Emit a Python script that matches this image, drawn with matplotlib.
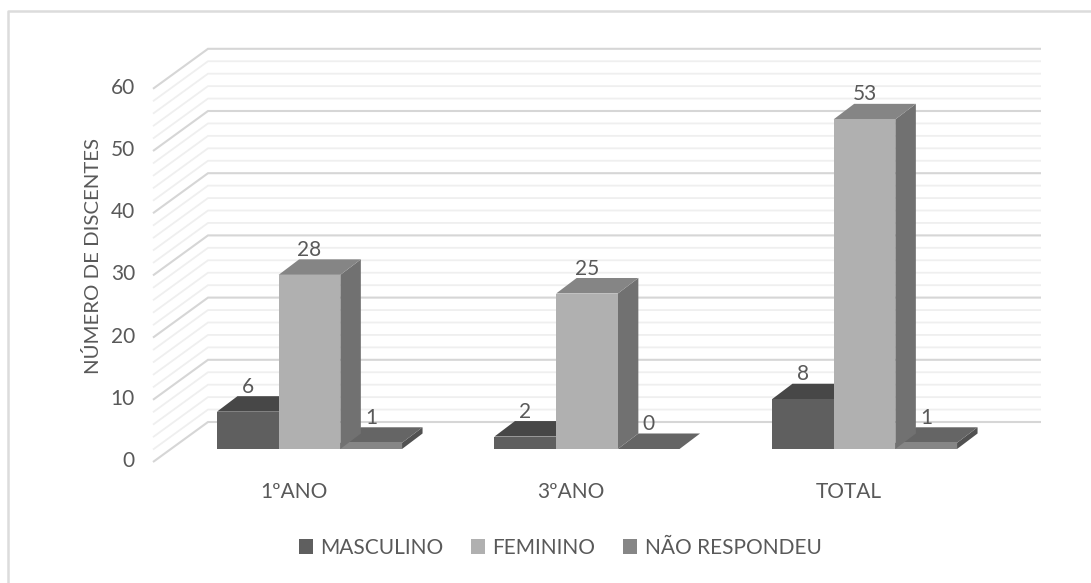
import matplotlib
matplotlib.use("Agg")
import matplotlib.pyplot as plt
from matplotlib.patches import Polygon, Patch
from matplotlib.lines import Line2D
from matplotlib.transforms import ScaledTranslation

plt.rcParams['font.family'] = ['Lato', 'DejaVu Sans']

categories = ["1ºANO", "3ºANO", "TOTAL"]
series_names = ["MASCULINO", "FEMININO", "NÃO RESPONDEU"]
masculino = [6, 2, 8]
feminino = [28, 25, 53]
nao_respondeu = [1, 0, 1]
y_ticks = [0, 10, 20, 30, 40, 50, 60]
minor_step = 2

W, H = 1091, 583
TEXT = "#595959"
FS = 15
# front, top and side shades per series
shades = [("#5f5f5f", "#474747", "#474747"),
          ("#b0b0b0", "#858585", "#717171"),
          ("#868686", "#656565", "#515151")]

# pixel scales of the category and value axes
PX_CAT, PX_VAL = 277.5, 6.22
X0_PX, Y0_PX = 309.5, 449.0
L_PX, R_PX, T_PX = 153.0, 1041.0, 47.0

fig = plt.figure(figsize=(W / 100, H / 100), dpi=100, facecolor="white")
ax = fig.add_axes([L_PX / W, 1 - Y0_PX / H, (R_PX - L_PX) / W, (Y0_PX - T_PX) / H])
ax.set_xlim((L_PX - X0_PX) / PX_CAT, (R_PX - X0_PX) / PX_CAT)
ax.set_ylim(0, (Y0_PX - T_PX) / PX_VAL)
ax.patch.set_alpha(0)
for s in ax.spines.values():
    s.set_visible(False)

# depth of the 3-D projection in axis units
BAR_W = 61.7 / PX_CAT
BAR_DX, BAR_DY = 20.5 / PX_CAT, 15.5 / PX_VAL
WALL_DX = 55.0 / PX_CAT
WALL_Y0 = -13.0 / PX_VAL      # front edge of the floor
WALL_DY = 40.0 / PX_VAL
x_left = ax.get_xlim()[0]
x_right = ax.get_xlim()[1]

# gridlines run along the back wall and fold down the side wall
for v in range(0, y_ticks[-1] + 1, minor_step):
    major = v % 10 == 0
    color = "#d6d6d6" if major else "#efefef"
    lw = 1.5 if major else 1.3
    ax.plot([x_left, x_left + WALL_DX, x_right],
            [v + WALL_Y0, v + WALL_Y0 + WALL_DY, v + WALL_Y0 + WALL_DY],
            color=color, lw=lw, clip_on=False, zorder=1 if not major else 1.5,
            solid_capstyle="butt", solid_joinstyle="miter")


def draw_bar(x, value, colors, z):
    front, top, side = colors
    ax.add_patch(Polygon([(x, 0), (x + BAR_W, 0), (x + BAR_W, value), (x, value)],
                         fc=front, ec="none", clip_on=False, zorder=z + 0.2))
    ax.add_patch(Polygon([(x, value), (x + BAR_W, value),
                          (x + BAR_W + BAR_DX, value + BAR_DY), (x + BAR_DX, value + BAR_DY)],
                         fc=top, ec="none", clip_on=False, zorder=z + 0.1))
    ax.add_patch(Polygon([(x + BAR_W, 0), (x + BAR_W + BAR_DX, BAR_DY),
                          (x + BAR_W + BAR_DX, value + BAR_DY), (x + BAR_W, value)],
                         fc=side, ec="none", clip_on=False, zorder=z))


all_series = [masculino, feminino, nao_respondeu]
for i, cat in enumerate(categories):
    for j, vals in enumerate(all_series):
        x = i + (j - 1.5) * BAR_W
        v = vals[i]
        draw_bar(x, v, shades[j], 3 + j if j != 2 else 3.5)
        ax.text(x + BAR_W / 2, v + BAR_DY - 0.1, str(v), ha="center", va="bottom",
                fontsize=FS, color=TEXT, zorder=8)

# value and category ticks
ax.set_yticks(y_ticks)
ax.set_xticks(range(len(categories)))
ax.set_xticklabels(categories)
ax.tick_params(axis="both", length=0, labelsize=FS, labelcolor=TEXT)
ax.tick_params(axis="y", pad=13)
ax.tick_params(axis="x", pad=24)
y_shift = ScaledTranslation(0, -10 / 100, fig.dpi_scale_trans)
x_shift = ScaledTranslation(-16 / 100, 0, fig.dpi_scale_trans)
for lab in ax.get_yticklabels():
    lab.set_transform(lab.get_transform() + y_shift)
for lab in ax.get_xticklabels():
    lab.set_transform(lab.get_transform() + x_shift)

fig.text(93 / W, 1 - 255.5 / H, "NÚMERO DE DISCENTES", rotation=90, ha="center", va="center",
         fontsize=FS - 0.3, color=TEXT)

handles = [Patch(fc=shades[k][0], ec="none", label=series_names[k]) for k in range(3)]
leg = fig.legend(handles=handles, loc="center", bbox_to_anchor=(560 / W, 1 - 548 / H), ncol=3,
                 frameon=False, fontsize=FS, labelcolor=TEXT, handlelength=0.7, handleheight=0.7,
                 handletextpad=0.35, columnspacing=1.3, borderpad=0)

# chart frame: top and left edges run off the canvas
fig.add_artist(Line2D([7.5 / W, 7.5 / W, 1], [0, 1 - 11 / H, 1 - 11 / H],
                      transform=fig.transFigure, color="#dcdcdc", lw=1.8))

fig.savefig("out.png", dpi=100, facecolor="white")
